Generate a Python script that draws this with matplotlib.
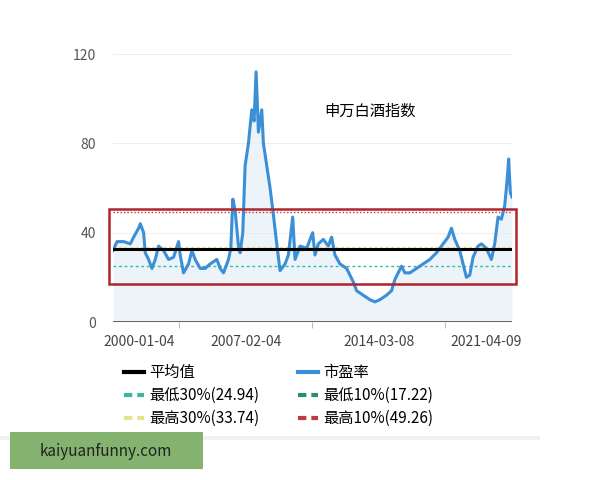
import matplotlib
matplotlib.use("Agg")
import matplotlib.pyplot as plt
from matplotlib.lines import Line2D
from matplotlib.patches import Rectangle
import numpy as np

plt.rcParams['font.family'] = ['Noto Sans CJK SC', 'DejaVu Sans']

pos = [98,110,130,150,160,175,180,190,195,205,215,225,235,250,265,280,295,300,310,325,335,345,360,375,390,410,420,430,445,452,458,465,475,480,488,495,505,515,522,528,535,545,550,560,570,580,590,600,615,625,638,645,660,680,698,705,715,730,745,755,765,780,800,820,830,850,870,885,900,920,935,945,965,975,990,1010,1030,1050,1070,1090,1105,1115,1125,1140,1150,1160,1170,1180,1195,1205,1220,1235,1245,1255,1265,1275,1282,1287,1292,1297]
pe = [32,36,36,35,38,42,44,40,31,28,24,28,34,32,28,29,36,30,22,26,32,28,24,24,26,28,24,22,28,33,55,50,34,31,40,70,80,95,90,112,85,95,80,70,60,48,35,23,26,30,47,28,34,33,40,30,35,37,34,38,30,26,24,18,14,12,10,9,10,12,14,19,25,22,22,24,26,28,31,35,38,42,37,32,26,20,21,29,34,35,33,28,35,47,46,52,63,73,58,56]
mean_v = 32.8
levels = {'最低30%': 24.94, '最低10%': 17.22, '最高30%': 33.74, '最高10%': 49.26}
tick_labels = ['2000-01-04', '2007-02-04', '2014-03-08', '2021-04-09']

x = (np.array(pos) - 98) / 1199.0
fig = plt.figure(figsize=(6, 4.8), dpi=100)
ax = fig.add_axes([113/600, 1-322/480, 399/600, 268/480])
ax.set_xlim(0, 1); ax.set_ylim(0, 120)
for s in ax.spines.values(): s.set_visible(False)
ax.axhline(0, color='#555555', lw=2, zorder=3)
for v in [40, 80, 120]:
    ax.axhline(v, color='#eeeeee', lw=0.8, zorder=0)
ax.fill_between(x, pe, color='#dbe9f5', alpha=0.5, lw=0)
ax.plot(x, pe, color='#3a8fd6', lw=2.2, zorder=4)
ax.axhline(mean_v, color='black', lw=2.2, zorder=5)
ax.axhline(levels['最低30%'], color='#3bb5a8', lw=1, ls=(0, (2, 2)))
ax.axhline(levels['最高30%'], color='#e8e38a', lw=1, ls=(0, (2, 2)))
ax.axhline(levels['最低10%'], color='#c0393f', lw=1, ls=(0, (1, 1.5)))
ax.axhline(levels['最高10%'], color='#c0393f', lw=1, ls=(0, (1, 1.5)))
ax.add_patch(Rectangle((-0.011, 16.9), 1.021, 33.7, fill=False, ec='#b0252d', lw=1.8, clip_on=False, zorder=6))
ax.set_yticks([0, 40, 80, 120])
ax.set_xticks([0.065, 0.333, 0.667, 0.935])
ax.set_xticklabels(tick_labels)
ax.set_xticks([0.166, 0.499, 0.833], minor=True)
ax.tick_params(axis='x', which='major', length=0, labelsize=10, colors='#444444', pad=9)
ax.tick_params(axis='x', which='minor', length=4, color='#aaaaaa')
ax.tick_params(axis='y', length=0, labelsize=10, colors='#555555', pad=12)
ax.text(0.53, 0.785, '申万白酒指数', transform=ax.transAxes, fontsize=11, ha='left', va='center')

def leg(xp, yp, color, label, ls):
    fig.add_artist(Line2D([xp/600, (xp+20)/600], [1-yp/480]*2, color=color, lw=3, ls=ls))
    fig.text((xp+25)/600, 1-yp/480, label, fontsize=11, va='center')
leg(124, 372, 'black', '平均值', '-')
leg(298, 372, '#3a8fd6', '市盈率', '-')
leg(124, 395, '#3bb5a8', '最低30%(24.94)', (0, (2, 1.2)))
leg(298, 395, '#2e8b6b', '最低10%(17.22)', (0, (2, 1.2)))
leg(124, 418, '#e8e38a', '最高30%(33.74)', (0, (2, 1.2)))
leg(298, 418, '#c0393f', '最高10%(49.26)', (0, (2, 1.2)))
fig.add_artist(Rectangle((0, 1-440/480), 540/600, 4/480, color='#f0f0f0', lw=0))
fig.add_artist(Rectangle((10/600, 1-469/480), 193/600, 37/480, color='#84b26f', lw=0))
fig.text(106/600, 1-451/480, 'kaiyuanfunny.com', fontsize=11, ha='center', va='center', color='#222222')
fig.savefig('out.png', dpi=100)
